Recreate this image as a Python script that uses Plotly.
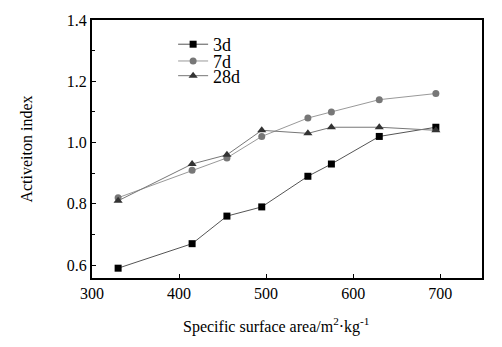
import plotly.graph_objects as go

area = [330, 415, 455, 495, 548, 575, 630, 695]
d3 = [0.59, 0.67, 0.76, 0.79, 0.89, 0.93, 1.02, 1.05]
d7 = [0.82, 0.91, 0.95, 1.02, 1.08, 1.10, 1.14, 1.16]
d28 = [0.81, 0.93, 0.96, 1.04, 1.03, 1.05, 1.05, 1.04]
names = ["3d", "7d", "28d"]
x_ticks = [300, 400, 500, 600, 700]
y_ticks = [0.6, 0.8, 1.0, 1.2, 1.4]
y_minor = [0.7, 0.9, 1.1, 1.3]

FONT = "Liberation Serif, Times New Roman, serif"
fig = go.Figure()
fig.add_trace(go.Scatter(x=area, y=d3, name=names[0], mode="lines+markers", legend="legend",
                         line=dict(color="#555555", width=1),
                         marker=dict(symbol="square", size=7, color="#000000")))
fig.add_trace(go.Scatter(x=area, y=d7, name=names[1], mode="lines+markers", legend="legend2",
                         line=dict(color="#999999", width=1),
                         marker=dict(symbol="circle", size=7, color="#777777")))
fig.add_trace(go.Scatter(x=area, y=d28, name=names[2], mode="lines+markers", legend="legend3",
                         line=dict(color="#777777", width=1),
                         marker=dict(symbol="triangle-up", size=8, color="#333333")))

fig.add_annotation(text="Specific surface area/m<sup>2</sup>·kg<sup>-1</sup>",
                   xref="paper", yref="paper", x=0.472, y=-0.186,
                   xanchor="center", yanchor="middle", showarrow=False,
                   font=dict(size=16, family=FONT, color="#000000"))

def leg(yv):
    return dict(x=0.208, y=yv, xanchor="left", yanchor="middle",
                bgcolor="rgba(0,0,0,0)", font=dict(size=18, family=FONT, color="#000000"),
                itemwidth=30)

fig.update_layout(
    width=502, height=347,
    margin=dict(l=92, r=20, t=15, b=69),
    paper_bgcolor="white", plot_bgcolor="white",
    font=dict(family=FONT, size=16, color="#000000"),
    showlegend=True,
    legend=leg(0.905), legend2=leg(0.840), legend3=leg(0.783),
    xaxis=dict(range=[300, 748], tickvals=x_ticks,
               ticks="inside", ticklen=4, tickcolor="black",
               showline=True, linecolor="black", linewidth=2, mirror=True,
               showgrid=False, zeroline=False,
               tickfont=dict(size=16, family=FONT)),
    yaxis=dict(range=[0.558, 1.4], tickvals=y_ticks,
               ticktext=["0.6", "0.8", "1.0", "1.2", "1.4"],
               ticks="inside", ticklen=4, tickcolor="black",
               minor=dict(tickvals=y_minor, ticks="inside", ticklen=3, tickcolor="black"),
               showline=True, linecolor="black", linewidth=2, mirror=True,
               showgrid=False, zeroline=False,
               title=dict(text="Activeiton index", font=dict(size=16, family=FONT), standoff=30),
               tickfont=dict(size=16, family=FONT)),
)
fig.write_html("out.html")
